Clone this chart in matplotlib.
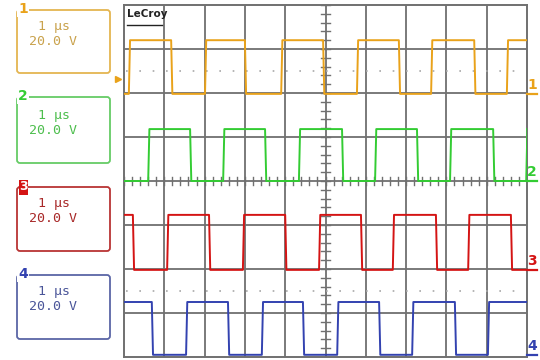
import numpy as np
import matplotlib.pyplot as plt
from matplotlib.patches import FancyBboxPatch, Rectangle

# scope screen: 10 x 8 divisions, traces in division units
n_xdiv = 10
n_ydiv = 8
timebase = "1 µs"
volts_div = "20.0 V"

channels = ["1", "2", "3", "4"]
trace_colors = ["#E9A21A", "#33CC33", "#D41414", "#3342B0"]
box_colors = ["#E4B551", "#66CC66", "#B93434", "#5B66A6"]
text_colors = ["#C9A24C", "#4DBE4D", "#A82828", "#4A5599"]

# (low, high) levels, starts high?, edge times (div)
ch1_levels = (1.98, 3.20)
ch1_start_high = False
ch1_edges = [0.12, 1.17, 2.01, 3.00, 3.90, 4.94, 5.78, 6.82, 7.62, 8.69, 9.50]

ch2_levels = (0.0, 1.18)
ch2_start_high = False
ch2_edges = [0.60, 1.64, 2.46, 3.50, 4.34, 5.41, 6.23, 7.27, 8.09, 9.16, 9.98]

ch3_levels = (-2.02, -0.77)
ch3_start_high = True
ch3_edges = [0.22, 1.07, 2.11, 2.95, 4.00, 4.84, 5.88, 6.67, 7.74, 8.54, 9.60]

ch4_levels = (-3.95, -2.75)
ch4_start_high = True
ch4_edges = [0.69, 1.54, 2.58, 3.42, 4.44, 5.29, 6.33, 7.15, 8.21, 9.03]

levels = [ch1_levels, ch2_levels, ch3_levels, ch4_levels]
starts = [ch1_start_high, ch2_start_high, ch3_start_high, ch4_start_high]
edges = [ch1_edges, ch2_edges, ch3_edges, ch4_edges]

ref_dots = [2.5, -2.5]       # dotted reference lines
ch1_ground = 2.32            # arrow on left edge

# left info boxes (pixel rows, top / bottom)
box_tops = [10, 97, 187, 275]
box_bottoms = [73, 163, 251, 339]


def square(lv, start_high, ts, rise=0.03):
    lo, hi = lv
    state = start_high
    xs = [0.0]
    ys = [hi if state else lo]
    for t in ts:
        xs += [t, t + rise]
        ys += [hi if state else lo, lo if state else hi]
        state = not state
    xs.append(n_xdiv)
    ys.append(hi if state else lo)
    return xs, ys


fig = plt.figure(figsize=(5.4, 3.6), dpi=100)

# overlay for the side panels, pixel coordinates
bg = fig.add_axes([0, 0, 1, 1])
bg.set_xlim(0, 540)
bg.set_ylim(360, 0)
bg.axis("off")

for i in range(4):
    top, bot = box_tops[i], box_bottoms[i]
    bg.add_patch(FancyBboxPatch((17, top), 93, bot - top,
                                boxstyle="round,pad=0,rounding_size=3",
                                fc="white", ec=box_colors[i], lw=1.3))
    mid = (top + bot) / 2
    bg.text(54, mid - 15, timebase, ha="center", va="center", fontsize=9.5,
            family="DejaVu Sans Mono", color=text_colors[i])
    bg.text(53, mid, volts_div, ha="center", va="center", fontsize=9.5,
            family="DejaVu Sans Mono", color=text_colors[i])
    if i == 2:
        bg.add_patch(Rectangle((18.5, top - 7.5), 9, 15, fc=trace_colors[i], ec="none"))
        bg.text(23, top, channels[i], ha="center", va="center", fontsize=9,
                fontweight="bold", color="white")
    else:
        bg.text(23, top - 1, channels[i], ha="center", va="center", fontsize=10,
                fontweight="bold", color=trace_colors[i],
                bbox=dict(fc="white", ec="none", pad=0.5))

ax = fig.add_axes([124 / 540, 3 / 360, 403 / 540, 352 / 360])
ax.set_xlim(0, n_xdiv)
ax.set_ylim(-n_ydiv / 2, n_ydiv / 2)
ax.set_xticks([])
ax.set_yticks([])
for s in ax.spines.values():
    s.set_color("#707070")
    s.set_linewidth(1.4)

grid_c = "#707070"
for x in range(1, n_xdiv):
    ax.axvline(x, color=grid_c, lw=1.3, zorder=1)
for y in range(-3, 4):
    ax.axhline(y, color=grid_c, lw=1.3, zorder=1)

# minor ticks on centre lines
for x in np.arange(0, n_xdiv + 0.01, 0.2):
    ax.plot([x, x], [-0.08, 0.08], color=grid_c, lw=1.0, zorder=1)
for y in np.arange(-4, 4.01, 0.2):
    ax.plot([4.9, 5.1], [y, y], color=grid_c, lw=1.0, zorder=1)

for y in ref_dots:
    ax.plot([0.05, 9.85], [y, y], color="#A8A8A8", lw=1.2,
            ls=(0, (1, 7)), zorder=1)

for i in range(4):
    xs, ys = square(levels[i], starts[i], edges[i])
    ax.plot(xs, ys, color=trace_colors[i], lw=1.4, zorder=3)
    lo = levels[i][0]
    ax.plot([10.0, 10.25], [lo, lo], color=trace_colors[i], lw=1.6,
            clip_on=False, zorder=3)
    ax.text(10.12, lo + 0.05, channels[i], ha="center", va="bottom",
            fontsize=10, fontweight="bold", color=trace_colors[i], clip_on=False)

ax.plot([-0.15], [ch1_ground], marker=">", ms=5, color=trace_colors[0],
        clip_on=False, zorder=3)

ax.text(0.07, 3.9, "LeCroy", ha="left", va="top", fontsize=7.5,
        fontweight="bold", color="#222222", zorder=4)
ax.plot([0.07, 0.95], [3.55, 3.55], color="#222222", lw=1.0, zorder=4)

fig.savefig("out.png", dpi=100)
